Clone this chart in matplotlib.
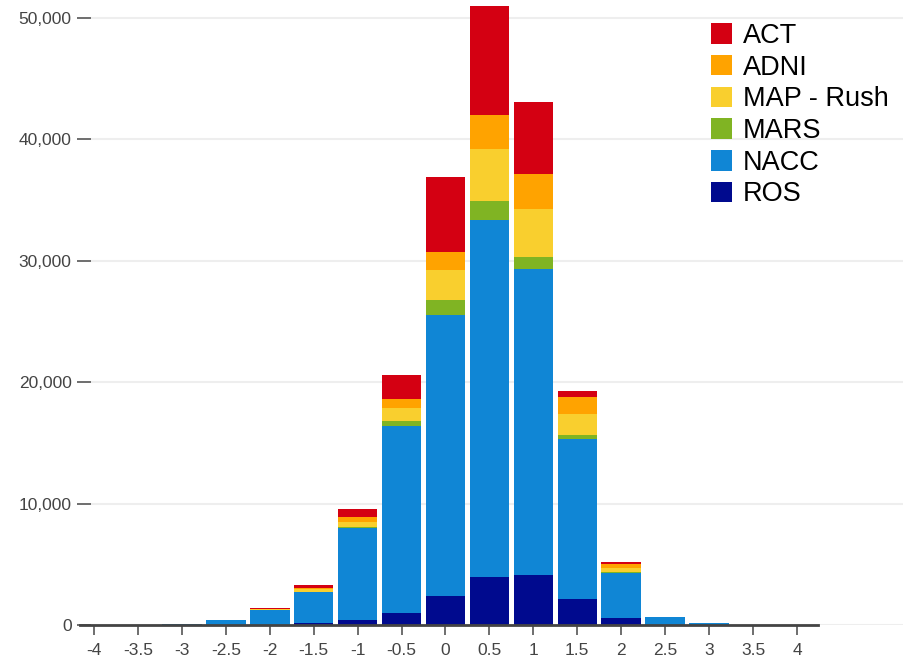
import matplotlib.pyplot as plt
import numpy as np

plt.rcParams['font.family'] = ['Liberation Sans', 'DejaVu Sans']

# histogram bins (centres), width 0.5
bins = [-4, -3.5, -3, -2.5, -2, -1.5, -1, -0.5, 0, 0.5, 1, 1.5, 2, 2.5, 3, 3.5, 4]
bin_labels = ['-4', '-3.5', '-3', '-2.5', '-2', '-1.5', '-1', '-0.5', '0',
              '0.5', '1', '1.5', '2', '2.5', '3', '3.5', '4']

# counts per cohort, stacked bottom to top
ros  = [0, 0, 0, 0, 30, 200, 400, 990, 2400, 3950, 4100, 2140, 550, 20, 0, 0, 0]
nacc = [0, 0, 100, 380, 1200, 2480, 7560, 15400, 23140, 29410, 25200, 13160, 3770, 640, 130, 0, 0]
mars = [0, 0, 0, 5, 15, 40, 120, 410, 1240, 1570, 1040, 350, 20, 5, 0, 0, 0]
map_rush = [0, 0, 5, 10, 60, 230, 410, 1050, 2470, 4240, 3930, 1700, 350, 10, 5, 0, 0]
adni = [0, 0, 0, 5, 50, 115, 410, 740, 1460, 2840, 2860, 1400, 330, 10, 5, 0, 0]
act  = [0, 0, 5, 10, 80, 270, 690, 2000, 6230, 8980, 5980, 520, 140, 5, 5, 0, 0]

cohorts = ['ROS', 'NACC', 'MARS', 'MAP - Rush', 'ADNI', 'ACT']
series = [ros, nacc, mars, map_rush, adni, act]
colors = ['#000a8e', '#1086d5', '#80b423', '#f9cf2e', '#ffa300', '#d40012']

fig = plt.figure(figsize=(9.04, 6.59), dpi=100)
ax = fig.add_axes([91/904, 34/659, 813/904, 621/659])

x = np.array(bins)
bottom = np.zeros(len(bins))
handles = {}
for name, vals, c in zip(cohorts, series, colors):
    vals = np.array(vals)
    b = ax.bar(x, vals, width=0.45, bottom=bottom, color=c, linewidth=0, zorder=3)
    handles[name] = b
    bottom += vals

ax.set_xlim(-4 - 3/87.875, 4 + 107/87.875)
ax.set_ylim(0, 621/607*50000)

ax.set_yticks([0, 10000, 20000, 30000, 40000, 50000])
ax.set_yticklabels(['0', '10,000', '20,000', '30,000', '40,000', '50,000'])
ax.set_xticks(bins)
ax.set_xticklabels(bin_labels)
ax.tick_params(axis='y', length=10, width=1.2, color='#555555', pad=4,
               labelsize=12.5, labelcolor='#444444')
ax.tick_params(axis='x', length=7, width=1.2, color='#555555', pad=6,
               labelsize=12.5, labelcolor='#444444')

ax.grid(axis='y', color='#eeeeee', linewidth=1.5, zorder=0)
for s in ax.spines.values():
    s.set_visible(False)
# baseline runs a bit past the last bin
ax.plot([-4.16, 4.24], [0, 0], color='#444444', linewidth=2, clip_on=False, zorder=4)

order = ['ACT', 'ADNI', 'MAP - Rush', 'MARS', 'NACC', 'ROS']
leg = fig.legend([handles[k] for k in order], order, loc='upper left',
                 bbox_to_anchor=(711/904, 1 - 23/659), frameon=False,
                 fontsize=19.5, handlelength=0.78, handleheight=0.78,
                 handletextpad=0.4, labelspacing=0.21, borderpad=0,
                 borderaxespad=0)

fig.savefig('out.png', dpi=100)
